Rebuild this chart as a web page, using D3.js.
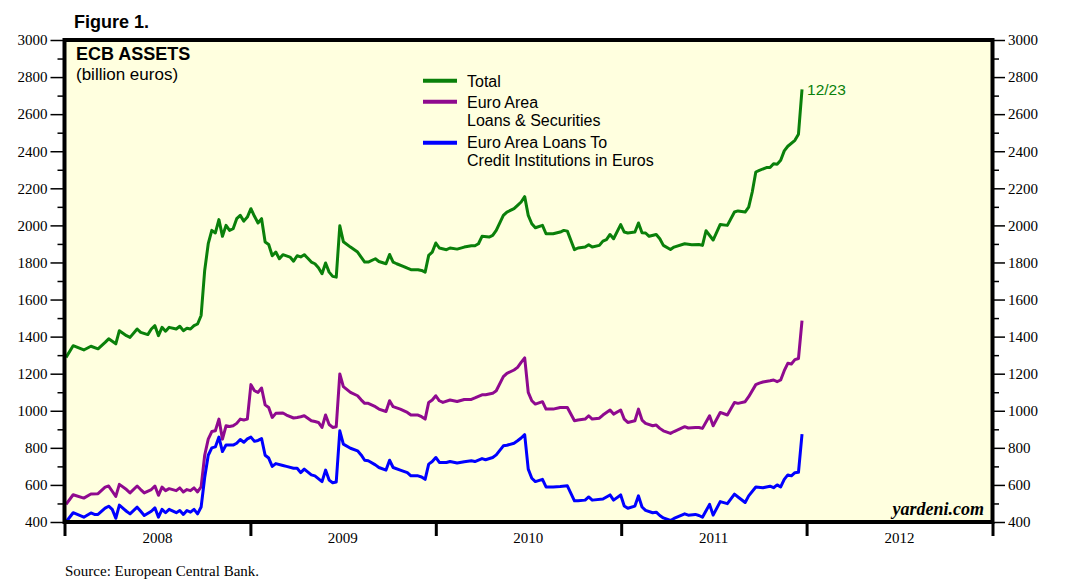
<!DOCTYPE html>
<html>
<head>
<meta charset="utf-8">
<script src="https://cdn.jsdelivr.net/npm/d3@7"></script>
<style>
  html, body { margin: 0; padding: 0; background: #fff; }
  svg { display: block; }
  .serif { font-family: "Liberation Serif", "Times New Roman", serif; }
  .sans { font-family: "Liberation Sans", Arial, sans-serif; }
</style>
</head>
<body>
<div id="chart"></div>
<script>
// weekly ECB data, [week number since Fri 2008-01-04, billion euros]
const firstWeek = new Date(2008, 0, 4);
const years = [2008, 2009, 2010, 2011, 2012];
const majorTicks = d3.range(400, 3001, 200);
const minorTicks = d3.range(500, 3000, 200);

const totalSeries = [
  [0,1288],[2,1351],[5,1328],[7,1348],[9,1334],[11,1369],[12,1388],[14,1361],[15,1432],[17,1405],
  [18,1396],[20,1441],[21,1423],[23,1411],[24,1441],[25,1459],[26,1405],[27,1450],[28,1429],[29,1450],
  [31,1441],[32,1456],[33,1432],[34,1445],[35,1441],[36,1459],[37,1468],[38,1514],[39,1757],[40,1901],
  [41,1973],[42,1959],[43,2031],[44,1941],[45,2000],[46,1973],[47,1982],[48,2036],[49,2054],[50,2023],
  [51,2045],[52,2090],[53,2049],[54,2013],[55,2036],[56,1910],[57,1897],[58,1836],[59,1856],[60,1820],
  [61,1842],[63,1829],[64,1807],[65,1836],[66,1830],[67,1842],[68,1823],[69,1802],[70,1793],[71,1771],
  [72,1739],[73,1797],[74,1748],[75,1725],[76,1721],[77,1998],[78,1912],[80,1883],[82,1856],[83,1829],
  [84,1802],[85,1802],[87,1820],[88,1805],[90,1793],[91,1843],[92,1802],[93,1793],[95,1778],[96,1769],
  [97,1761],[99,1761],[100,1757],[101,1748],[102,1838],[103,1856],[104,1905],[105,1878],[107,1869],[108,1878],
  [110,1872],[112,1883],[114,1890],[115,1890],[116,1901],[117,1941],[119,1937],[120,1946],[121,1973],[123,2054],
  [124,2072],[126,2090],[127,2108],[128,2126],[129,2155],[130,2054],[131,2009],[132,1987],[134,2000],[135,1955],
  [137,1955],[139,1964],[140,1973],[141,1969],[143,1869],[144,1878],[146,1883],[147,1896],[148,1883],[150,1892],
  [151,1915],[152,1923],[153,1951],[154,1928],[156,2004],[157,1964],[158,1959],[160,1964],[161,2013],[162,1960],
  [163,1959],[164,1941],[166,1951],[167,1928],[168,1892],[170,1870],[171,1883],[174,1901],[176,1896],[178,1897],
  [179,1892],[180,1971],[182,1921],[184,2005],[186,2000],[188,2072],[189,2078],[191,2072],[192,2099],[193,2180],
  [194,2288],[195,2297],[197,2312],[198,2312],[199,2333],[200,2330],[201,2351],[202,2402],[203,2427],[205,2459],
  [206,2492],[207,2734]
];

const loansSecSeries = [
  [0,495],[2,547],[5,529],[7,551],[9,553],[11,588],[12,594],[13,566],[14,538],[15,603],
  [17,575],[18,557],[20,594],[21,575],[22,557],[24,575],[25,594],[26,544],[27,588],[28,569],
  [29,580],[31,569],[32,584],[33,562],[34,575],[35,569],[36,584],[37,562],[38,590],[39,760],
  [40,847],[41,888],[42,892],[43,955],[44,847],[45,919],[46,915],[47,919],[48,932],[49,955],
  [50,950],[51,955],[52,1141],[53,1108],[54,1099],[55,1123],[56,1032],[57,1018],[58,964],[59,986],
  [61,988],[62,977],[64,961],[65,964],[66,968],[67,973],[69,946],[70,942],[71,937],[72,910],
  [73,977],[74,926],[75,910],[76,914],[77,1199],[78,1130],[80,1099],[82,1081],[83,1059],[84,1040],
  [85,1040],[87,1022],[88,1009],[90,996],[91,1054],[92,1022],[94,1009],[96,991],[97,977],[99,977],
  [100,968],[101,955],[102,1045],[103,1058],[104,1081],[105,1054],[106,1045],[108,1058],[110,1050],[112,1061],
  [114,1061],[115,1069],[117,1086],[118,1086],[120,1094],[121,1108],[123,1184],[124,1202],[126,1220],[127,1234],
  [128,1261],[129,1285],[130,1099],[131,1054],[132,1036],[134,1049],[135,1009],[137,1009],[139,1018],[141,1018],
  [143,946],[144,950],[146,955],[147,973],[148,955],[150,960],[151,977],[153,1004],[154,982],[156,1004],
  [157,955],[158,937],[160,946],[161,1009],[162,950],[163,932],[165,919],[166,923],[167,905],[168,892],
  [170,878],[171,888],[174,914],[175,907],[177,910],[178,910],[179,905],[181,973],[182,919],[184,991],
  [186,977],[188,1045],[189,1040],[191,1049],[192,1076],[194,1141],[195,1149],[196,1155],[198,1162],[199,1166],
  [200,1157],[201,1166],[202,1216],[203,1256],[204,1252],[205,1276],[206,1282],[207,1486]
];

const creditInstSeries = [
  [0,400],[2,450],[5,426],[7,449],[8,441],[9,441],[11,475],[12,485],[13,468],[14,420],
  [15,491],[17,458],[18,444],[20,480],[21,458],[22,435],[24,458],[25,476],[26,426],[27,468],
  [28,450],[29,468],[31,450],[32,462],[33,441],[34,462],[35,453],[36,468],[37,444],[38,481],
  [39,640],[40,760],[41,800],[42,805],[43,858],[44,780],[45,815],[47,815],[48,825],[49,845],
  [50,830],[51,848],[52,858],[53,835],[54,840],[55,850],[56,760],[57,745],[58,700],[59,715],
  [61,705],[62,700],[64,690],[65,690],[66,666],[67,685],[69,654],[70,649],[72,618],[73,680],
  [74,626],[75,612],[76,616],[77,892],[78,820],[80,798],[82,784],[83,762],[84,733],[85,730],
  [87,708],[88,694],[90,680],[91,733],[92,694],[94,680],[96,666],[97,649],[99,649],[100,643],
  [101,630],[102,712],[103,726],[104,748],[105,721],[107,721],[108,726],[110,718],[112,725],[114,730],
  [115,726],[117,742],[118,736],[120,748],[121,762],[123,811],[124,814],[126,825],[127,838],[128,853],
  [129,871],[130,685],[131,636],[132,618],[134,630],[135,589],[137,589],[139,591],[141,595],[143,514],
  [144,514],[146,518],[147,535],[148,518],[151,524],[153,546],[154,518],[156,546],[157,486],[158,474],
  [160,486],[161,541],[162,481],[163,463],[165,450],[166,453],[167,435],[168,422],[170,408],[171,419],
  [174,444],[175,437],[177,441],[178,435],[179,426],[181,495],[182,437],[184,510],[186,499],[188,550],
  [189,535],[191,505],[192,541],[194,589],[196,585],[198,593],[199,585],[200,600],[201,589],[202,630],
  [203,654],[204,649],[205,666],[206,668],[207,874]
];

const series = [
  { name: ["Total"], data: totalSeries, color: "#0a800a" },
  { name: ["Euro Area", "Loans & Securities"], data: loansSecSeries, color: "#8f0a8f" },
  { name: ["Euro Area Loans To", "Credit Institutions in Euros"], data: creditInstSeries, color: "#0000ff" },
];

const width = 1083, height = 588;
const plot = { left: 64.5, right: 992.5, top: 40, bottom: 522 };

const weekDate = (w) => d3.timeDay.offset(firstWeek, w * 7);

const x = d3.scaleTime()
  .domain([new Date(2008, 0, 1), new Date(2013, 0, 1)])
  .range([plot.left, plot.right]);

const y = d3.scaleLinear()
  .domain([400, 3000])
  .range([plot.bottom, plot.top]);

const svg = d3.select("#chart").append("svg")
  .attr("width", width)
  .attr("height", height);

// plot background
svg.append("rect")
  .attr("x", plot.left).attr("y", plot.top)
  .attr("width", plot.right - plot.left).attr("height", plot.bottom - plot.top)
  .attr("fill", "#ffffdf");

// y axes, both sides
function styleAxis(g) {
  g.select(".domain").remove();
  g.selectAll(".tick line").attr("stroke", "#000").attr("stroke-width", 1.5);
  g.selectAll(".tick text")
    .attr("class", "serif")
    .attr("fill", "#000")
    .style("font-size", "15px");
}

svg.append("g")
  .attr("transform", `translate(${plot.left},0)`)
  .call(d3.axisLeft(y).tickValues(majorTicks).tickSize(14).tickPadding(3).tickFormat(d3.format("d")))
  .call(styleAxis);
svg.append("g")
  .attr("transform", `translate(${plot.left},0)`)
  .call(d3.axisLeft(y).tickValues(minorTicks).tickSize(7).tickFormat(""))
  .call(styleAxis);
svg.append("g")
  .attr("transform", `translate(${plot.right},0)`)
  .call(d3.axisRight(y).tickValues(majorTicks).tickSize(12.5).tickPadding(3).tickFormat(d3.format("d")))
  .call(styleAxis);
svg.append("g")
  .attr("transform", `translate(${plot.right},0)`)
  .call(d3.axisRight(y).tickValues(minorTicks).tickSize(6.5).tickFormat(""))
  .call(styleAxis);

// x axis: year boundaries as ticks, labels centred in each year
const yearStarts = years.concat([years[years.length - 1] + 1]).map(yr => new Date(yr, 0, 1));
svg.append("g")
  .attr("transform", `translate(0,${plot.bottom})`)
  .call(d3.axisBottom(x).tickValues(yearStarts).tickSize(14).tickFormat(""))
  .call(g => {
    g.select(".domain").remove();
    g.selectAll(".tick line").attr("stroke", "#000").attr("stroke-width", 3);
  });

svg.append("g").selectAll("text")
  .data(years)
  .join("text")
  .attr("class", "serif")
  .attr("x", yr => x(new Date(yr, 6, 2)))
  .attr("y", 543)
  .attr("text-anchor", "middle")
  .style("font-size", "15px")
  .text(yr => yr);

// data lines
const line = d3.line()
  .x(d => x(weekDate(d[0])))
  .y(d => y(d[1]));

svg.append("g")
  .selectAll("path")
  .data(series)
  .join("path")
  .attr("d", s => line(s.data))
  .attr("fill", "none")
  .attr("stroke", s => s.color)
  .attr("stroke-width", 3)
  .attr("stroke-linejoin", "round");

// frame
svg.append("rect")
  .attr("x", plot.left).attr("y", plot.top)
  .attr("width", plot.right - plot.left).attr("height", plot.bottom - plot.top)
  .attr("fill", "none")
  .attr("stroke", "#000")
  .attr("stroke-width", 4);

// last date label
const last = totalSeries[totalSeries.length - 1];
svg.append("text")
  .attr("class", "sans")
  .attr("x", x(weekDate(last[0])) + 5)
  .attr("y", y(last[1]) + 6)
  .attr("fill", series[0].color)
  .style("font-size", "15.5px")
  .text("12/23");

// titles
svg.append("text").attr("class", "sans")
  .attr("x", 74).attr("y", 28)
  .style("font-size", "18px").style("font-weight", "bold")
  .text("Figure 1.");
svg.append("text").attr("class", "sans")
  .attr("x", 76).attr("y", 60)
  .style("font-size", "18px").style("font-weight", "bold")
  .text("ECB ASSETS");
svg.append("text").attr("class", "sans")
  .attr("x", 76).attr("y", 80)
  .style("font-size", "17px")
  .text("(billion euros)");

// legend: wrapped entries spaced so the lines do not collide
const legendRows = [
  { lineY: 80.7, textY: 86.5 },
  { lineY: 101.7, textY: 107.5 },
  { lineY: 142.7, textY: 147.5 },
];
const legendLineGap = 18;
const legend = svg.append("g");
series.forEach((s, i) => {
  legend.append("line")
    .attr("x1", 423).attr("x2", 457)
    .attr("y1", legendRows[i].lineY).attr("y2", legendRows[i].lineY)
    .attr("stroke", s.color).attr("stroke-width", 4);
  s.name.forEach((t, j) => {
    legend.append("text").attr("class", "sans")
      .attr("x", 467).attr("y", legendRows[i].textY + j * legendLineGap)
      .style("font-size", "16px")
      .text(t);
  });
});

// watermark and source
svg.append("text").attr("class", "serif")
  .attr("x", 984).attr("y", 515)
  .attr("text-anchor", "end")
  .style("font-size", "18px").style("font-style", "italic").style("font-weight", "bold")
  .text("yardeni.com");
svg.append("text").attr("class", "serif")
  .attr("x", 65).attr("y", 576)
  .style("font-size", "15px")
  .text("Source: European Central Bank.");
</script>
</body>
</html>
